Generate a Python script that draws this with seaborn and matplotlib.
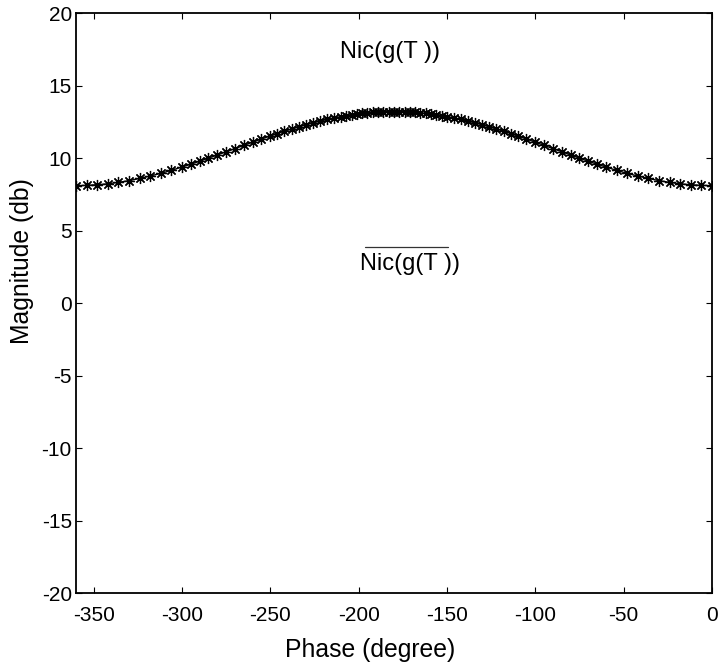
import matplotlib
matplotlib.use('Agg')
import matplotlib.pyplot as plt
import seaborn as sns

# Nichols curve points
phase = [-360, -354, -348, -342, -336, -330, -324, -318, -312, -306,
         -300, -295, -290, -285, -280, -275, -270, -265, -260, -255,
         -250, -246, -242, -238, -234, -230, -226, -222, -218, -214,
         -210, -207, -204, -201, -198, -195, -192, -189, -186, -183,
         -180, -177, -174, -171, -168, -165, -162, -159, -156, -153,
         -150, -146, -142, -138, -134, -130, -126, -122, -118, -114,
         -110, -105, -100, -95, -90, -85, -80, -75, -70, -65,
         -60, -54, -48, -42, -36, -30, -24, -18, -12, -6, 0]
magnitude = [8.10, 8.11, 8.16, 8.22, 8.32, 8.44, 8.59, 8.76, 8.94, 9.15,
             9.38, 9.57, 9.78, 9.99, 10.21, 10.43, 10.65, 10.87, 11.09, 11.31,
             11.52, 11.69, 11.85, 12.00, 12.15, 12.29, 12.42, 12.54, 12.66, 12.76,
             12.86, 12.92, 12.98, 13.03, 13.08, 13.11, 13.14, 13.17, 13.19, 13.20,
             13.20, 13.20, 13.19, 13.17, 13.14, 13.11, 13.08, 13.03, 12.98, 12.92,
             12.86, 12.76, 12.66, 12.54, 12.42, 12.29, 12.15, 12.00, 11.85, 11.69,
             11.52, 11.31, 11.09, 10.87, 10.65, 10.43, 10.21, 9.99, 9.78, 9.57,
             9.38, 9.15, 8.94, 8.76, 8.59, 8.44, 8.32, 8.22, 8.16, 8.11, 8.10]

x_ticks = [-350, -300, -250, -200, -150, -100, -50, 0]
y_ticks = [-20, -15, -10, -5, 0, 5, 10, 15, 20]

sns.set_style("ticks")
plt.rcParams['font.family'] = ['Liberation Sans', 'DejaVu Sans']
plt.rcParams['axes.unicode_minus'] = False
plt.rcParams['text.color'] = 'black'
plt.rcParams['axes.labelcolor'] = 'black'
plt.rcParams['xtick.color'] = 'black'
plt.rcParams['ytick.color'] = 'black'

fig = plt.figure(figsize=(7.21, 6.67), dpi=100)
ax = fig.add_axes([0.1054, 0.1109, 0.8821, 0.8696])

sns.lineplot(x=phase, y=magnitude, ax=ax, color='black', linewidth=1.0,
             marker=(8, 2, 0), markersize=8, markeredgecolor='black',
             markeredgewidth=0.9, sort=False, estimator=None)

# labels of the curve, the second with an overline
ax.text(-210.5, 17.3, 'Nic(g(T ))', ha='left', va='center', fontsize=17)
ax.text(-199, 2.7, 'Nic(g(T ))', ha='left', va='center', fontsize=17)
ax.plot([-196.2, -149.3], [3.84, 3.84], color='#333333', linewidth=0.9)

ax.set_xlim(-360, 0)
ax.set_ylim(-20, 20)
ax.set_xticks(x_ticks)
ax.set_yticks(y_ticks)
ax.tick_params(direction='in', top=True, right=True, length=4.5, width=0.8,
               labelsize=15, colors='black')
ax.tick_params(axis='x', pad=9)
ax.tick_params(axis='y', pad=3)
for s in ax.spines.values():
    s.set_linewidth(1.3)
    s.set_color('black')

ax.set_xlabel('Phase (degree)', fontsize=17.8)
ax.set_ylabel('Magnitude (db)', fontsize=17.8)
ax.xaxis.set_label_coords(0.462, -0.078)
ax.yaxis.set_label_coords(-0.066, 0.573)

plt.savefig('out.png', dpi=100)
